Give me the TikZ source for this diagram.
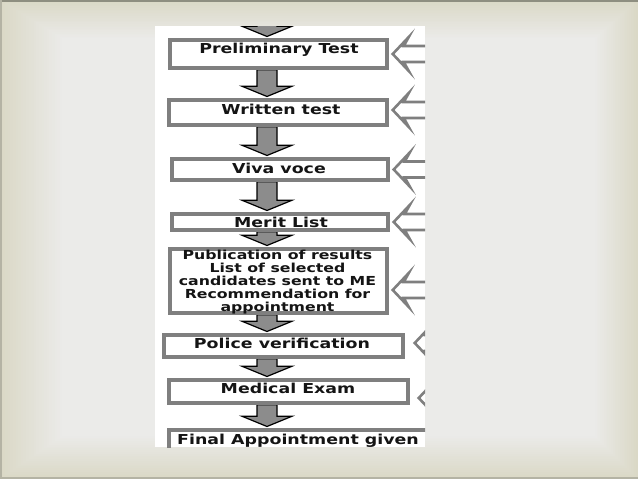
\documentclass[tikz,border=0pt]{standalone}
\usepackage{fontspec}
\newfontfamily\lblfont{DejaVu Sans}[FakeStretch=1.27]
\usetikzlibrary{calc}
\definecolor{bginner}{HTML}{EBEBE9}
\definecolor{bgouter}{HTML}{DAD8C6}
\definecolor{topbar}{HTML}{8E8E80}
\definecolor{botbar}{HTML}{B4B3A4}
\definecolor{boxgray}{HTML}{7F7F7F}
\definecolor{arrfill}{HTML}{8C8C8C}
\pgfdeclarelayer{back}
\pgfdeclarelayer{mid}
\pgfsetlayers{back,mid,main}
\newcommand\darr[2]{\path[downarr] let \p1=(#1), \p2=(#2) in
  (257pt,\y1) -- (277pt,\y1) -- (277pt,\y2+12pt) -- (292pt,\y2+12pt) -- (267pt,\y2+1.75pt)
  -- (242pt,\y2+12pt) -- (257pt,\y2+12pt) -- cycle;}
\newcommand\sarr[1]{\path[sidearr] let \p1=(#1) in
  (440pt,\y1+8pt) -- (\x1+11pt,\y1+8pt) -- (\x1+16pt,\y1+17pt) -- (\x1,\y1)
  -- (\x1+16pt,\y1-17pt) -- (\x1+11pt,\y1-8pt) -- (440pt,\y1-8pt);}
\begin{document}
\begin{tikzpicture}[x=1pt,y=-1pt,
  stepbox/.style={draw=boxgray, line width=3.5pt, inner sep=0pt, rectangle},
  lbl/.style={font=\lblfont\bfseries\fontsize{13.7}{13}\selectfont, text=black!92, inner sep=0pt, align=center},
  lblsmall/.style={lbl, font=\lblfont\bfseries\fontsize{12.4}{13}\selectfont},
  downarr/.style={fill=arrfill, draw=black, line width=1.2pt, line join=miter},
  sidearr/.style={draw=boxgray, line width=2.6pt, line join=miter}]
\useasboundingbox (0,0) rectangle (638,479);
\begin{pgfonlayer}{back}
  \foreach \i in {0,...,24} {
    \pgfmathsetmacro\pc{100-100*\i/24}
    \fill[bgouter!\pc!bginner] ({2.6*\i},{1.6*\i}) rectangle ({638-1.8*\i},{479-1.8*\i});
  }
  \fill[topbar] (0,0) rectangle (638,2);
  \fill[botbar] (0,477) rectangle (638,479);
  \fill[botbar] (0,0) rectangle (1.5,479);
  \fill[white] (155,26) rectangle (425,447);
\end{pgfonlayer}
\begin{scope}
  \clip (155,26) rectangle (425,447);
  \node[stepbox, minimum width=217pt, minimum height=28pt] (b1) at (278.5,54) {};
  \node[stepbox, minimum width=218pt, minimum height=25pt] (b2) at (278,112.5) {};
  \node[stepbox, minimum width=216pt, minimum height=21pt] (b3) at (280,169.5) {};
  \node[stepbox, minimum width=216pt, minimum height=16pt] (b4) at (280,222) {};
  \node[stepbox, minimum width=217pt, minimum height=64pt] (b5) at (278.5,281) {};
  \node[stepbox, minimum width=239pt, minimum height=22pt] (b6) at (283.5,346) {};
  \node[stepbox, minimum width=239pt, minimum height=23pt] (b7) at (288.5,391.5) {};
  \node[stepbox, minimum width=271pt, minimum height=30pt] (b8) at (304.5,445) {};
\end{scope}
\node[lbl, anchor=base] (t1) at (279,53.3) {Preliminary Test};
\node[lbl, anchor=base] (t2) at (281,114) {Written test};
\node[lbl, anchor=base] (t3) at (279,173) {Viva voce};
\node[lbl, anchor=base] (t4) at (281,227) {Merit List};
\node[lblsmall] (t5) at (277.5,282.4) {Publication of results\\List of selected\\candidates sent to ME\\Recommendation for\\appointment};
\node[lbl, anchor=base] (t6) at (282,348) {Police verification};
\node[lbl, anchor=base] (t7) at (288,393) {Medical Exam};
\node[lbl, anchor=base] (t8) at (298,444) {Final Appointment given};
\coordinate (a0) at (267,15);
\coordinate (r1) at ($(b1.east)+(4,0)$);
\coordinate (r2) at ($(b2.east)+(4,-2.5)$);
\coordinate (r3) at ($(b3.east)+(4,0)$);
\coordinate (r4) at ($(b4.east)+(4,0)$);
\coordinate (r5) at ($(b5.east)+(4,9)$);
\coordinate (r6) at ($(b6.east)+(10,-3)$);
\coordinate (r7) at ($(b7.east)+(9,6.5)$);
\begin{pgfonlayer}{mid}
\begin{scope}
  \clip (155,26) rectangle (425,447);
  \darr{a0}{b1.north}
  \darr{b1.south}{b2.north}
  \darr{b2.south}{b3.north}
  \darr{b3.south}{b4.north}
  \darr{b4.south}{b5.north}
  \darr{b5.south}{b6.north}
  \darr{b6.south}{b7.north}
  \darr{b7.south}{b8.north}
  \sarr{r1}
  \sarr{r2}
  \sarr{r3}
  \sarr{r4}
  \sarr{r5}
  \sarr{r6}
  \sarr{r7}
\end{scope}
\end{pgfonlayer}
\end{tikzpicture}
\end{document}
